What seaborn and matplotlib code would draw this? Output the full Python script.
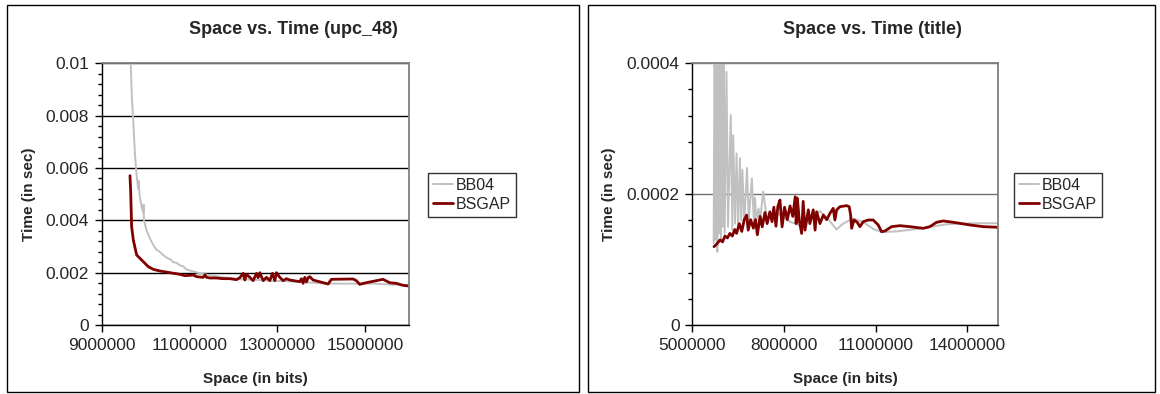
import numpy as np
import pandas as pd
import matplotlib
matplotlib.use("Agg")
import matplotlib.pyplot as plt
import seaborn as sns
from matplotlib.patches import Rectangle
from matplotlib.ticker import FixedLocator, MultipleLocator, FuncFormatter

# ---------------- data: left panel (upc_48) ----------------
upc_bb04_x = [9.650e6, 9.660e6, 9.690e6, 9.719e6, 9.758e6, 9.796e6, 9.833e6, 9.845e6, 9.860e6,
              9.910e6, 9.947e6, 9.955e6, 9.962e6, 10.024e6, 10.10e6, 10.174e6, 10.25e6, 10.32e6,
              10.40e6, 10.50e6, 10.56e6, 10.63e6, 10.70e6, 10.78e6, 10.86e6, 10.93e6, 11.08e6,
              11.24e6, 11.46e6, 11.77e6, 12.15e6, 12.53e6, 12.90e6, 13.28e6, 13.66e6, 14.04e6,
              14.42e6, 14.80e6, 15.18e6, 15.56e6, 16.0e6]
upc_bb04_y = [0.0106, 0.0100, 0.0086, 0.0078, 0.0065, 0.0057, 0.0052, 0.0055, 0.0050,
              0.0045, 0.0043, 0.0046, 0.0040, 0.0036, 0.0033, 0.00306, 0.00287, 0.00280,
              0.00267, 0.00255, 0.00251, 0.00240, 0.00238, 0.00228, 0.00224, 0.00212, 0.00205,
              0.00197, 0.00190, 0.00182, 0.00175, 0.00172, 0.00169, 0.00167, 0.00163, 0.00159,
              0.00158, 0.00158, 0.00158, 0.00155, 0.00152]

upc_bsgap_x = [9.644e6, 9.659e6, 9.682e6, 9.720e6, 9.796e6, 9.872e6, 9.947e6, 10.061e6, 10.175e6,
               10.327e6, 10.554e6, 10.782e6, 10.895e6, 11.009e6, 11.085e6, 11.161e6, 11.313e6,
               11.350e6, 11.388e6, 11.464e6, 11.616e6, 11.768e6, 11.919e6, 12.071e6, 12.147e6,
               12.223e6, 12.261e6, 12.298e6, 12.374e6, 12.450e6, 12.526e6, 12.564e6, 12.602e6,
               12.678e6, 12.754e6, 12.829e6, 12.890e6, 12.943e6, 12.981e6, 13.057e6, 13.133e6,
               13.209e6, 13.284e6, 13.512e6, 13.550e6, 13.588e6, 13.626e6, 13.664e6, 13.702e6,
               13.739e6, 13.815e6, 14.043e6, 14.157e6, 14.232e6, 14.725e6, 14.801e6, 14.877e6,
               15.029e6, 15.408e6, 15.560e6, 15.712e6, 15.863e6, 16.0e6]
upc_bsgap_y = [0.005706, 0.005159, 0.003757, 0.003248, 0.002675, 0.002547, 0.002420, 0.002229,
               0.002127, 0.002063, 0.002000, 0.001936, 0.001885, 0.001898, 0.001910, 0.001847,
               0.001821, 0.001910, 0.001821, 0.001796, 0.001796, 0.001770, 0.001770, 0.001732,
               0.001808, 0.001974, 0.001719, 0.001936, 0.001821, 0.001694, 0.001974, 0.001808,
               0.002000, 0.001694, 0.001821, 0.001694, 0.001974, 0.001694, 0.002000, 0.001821,
               0.001694, 0.001770, 0.001719, 0.001656, 0.001770, 0.001592, 0.001821, 0.001643,
               0.001808, 0.001847, 0.001719, 0.001617, 0.001566, 0.001745, 0.001758, 0.001694,
               0.001554, 0.001617, 0.001745, 0.001617, 0.001592, 0.001515, 0.001490]

# ---------------- data: right panel (title) ----------------
title_bb04_x = [5.70e6, 5.73e6, 5.76e6, 5.79e6, 5.82e6, 5.85e6, 5.88e6, 5.91e6, 5.94e6, 5.97e6,
                6.00e6, 6.03e6, 6.06e6, 6.12e6, 6.17e6, 6.26e6, 6.31e6, 6.34e6, 6.40e6, 6.45e6,
                6.50e6, 6.56e6, 6.60e6, 6.64e6, 6.70e6, 6.79e6, 6.85e6, 6.95e6, 7.02e6, 7.05e6,
                7.10e6, 7.17e6, 7.22e6, 7.32e6, 7.45e6, 7.65e6, 7.90e6, 8.20e6, 8.525e6, 8.85e6,
                9.18e6, 9.45e6, 9.72e6, 9.94e6, 10.27e6, 10.60e6, 10.92e6, 11.20e6, 11.69e6,
                12.56e6, 13.33e6, 14.09e6, 15.0e6]
title_bb04_y = [1.25e-4, 4.6e-4, 1.3e-4, 4.6e-4, 1.12e-4, 4.6e-4, 1.4e-4, 4.6e-4, 1.3e-4, 4.6e-4,
                1.5e-4, 4.5e-4, 1.4e-4, 3.87e-4, 1.5e-4, 3.21e-4, 1.45e-4, 2.9e-4, 1.55e-4, 2.62e-4,
                1.5e-4, 2.55e-4, 1.6e-4, 2.37e-4, 1.55e-4, 2.4e-4, 1.6e-4, 2.24e-4, 1.55e-4, 1.95e-4,
                1.6e-4, 1.78e-4, 1.6e-4, 2.04e-4, 1.60e-4, 1.72e-4, 1.68e-4, 1.58e-4, 1.52e-4, 1.65e-4,
                1.74e-4, 1.62e-4, 1.46e-4, 1.55e-4, 1.63e-4, 1.57e-4, 1.47e-4, 1.42e-4, 1.43e-4,
                1.48e-4, 1.54e-4, 1.555e-4, 1.555e-4]

title_bsgap_x = [5.71e6, 5.80e6, 5.91e6, 5.99e6, 6.07e6, 6.15e6, 6.23e6, 6.31e6, 6.39e6, 6.45e6,
                 6.54e6, 6.62e6, 6.70e6, 6.78e6, 6.83e6, 6.91e6, 7.00e6, 7.07e6, 7.13e6, 7.22e6,
                 7.29e6, 7.38e6, 7.45e6, 7.54e6, 7.61e6, 7.67e6, 7.74e6, 7.80e6, 7.87e6, 7.94e6,
                 8.02e6, 8.11e6, 8.20e6, 8.29e6, 8.37e6, 8.40e6, 8.44e6, 8.50e6, 8.58e6, 8.63e6,
                 8.69e6, 8.80e6, 8.85e6, 8.96e6, 9.02e6, 9.07e6, 9.18e6, 9.29e6, 9.40e6,
                 9.507e6, 9.615e6, 9.670e6, 9.726e6, 9.834e6, 10.053e6, 10.138e6, 10.184e6,
                 10.217e6, 10.292e6, 10.400e6, 10.488e6, 10.596e6, 10.760e6, 10.924e6, 11.087e6,
                 11.198e6, 11.307e6, 11.526e6, 11.797e6, 12.124e6, 12.560e6, 12.779e6, 12.998e6,
                 13.214e6, 13.542e6, 14.088e6, 14.524e6, 15.0e6]
title_bsgap_y = [1.197e-4, 1.238e-4, 1.30e-4, 1.27e-4, 1.36e-4, 1.33e-4, 1.40e-4, 1.36e-4, 1.46e-4,
                 1.40e-4, 1.55e-4, 1.43e-4, 1.61e-4, 1.68e-4, 1.45e-4, 1.61e-4, 1.48e-4, 1.61e-4,
                 1.38e-4, 1.66e-4, 1.50e-4, 1.72e-4, 1.55e-4, 1.73e-4, 1.58e-4, 1.80e-4, 1.51e-4,
                 1.81e-4, 1.91e-4, 1.50e-4, 1.80e-4, 1.61e-4, 1.82e-4, 1.66e-4, 1.96e-4, 1.55e-4,
                 1.94e-4, 1.61e-4, 1.40e-4, 1.89e-4, 1.45e-4, 1.76e-4, 1.55e-4, 1.76e-4, 1.45e-4,
                 1.73e-4, 1.55e-4, 1.68e-4, 1.61e-4,
                 1.707e-4, 1.784e-4, 1.605e-4, 1.758e-4, 1.808e-4, 1.824e-4, 1.808e-4, 1.681e-4,
                 1.478e-4, 1.605e-4, 1.570e-4, 1.503e-4, 1.579e-4, 1.605e-4, 1.605e-4, 1.529e-4,
                 1.426e-4, 1.437e-4, 1.503e-4, 1.518e-4, 1.503e-4, 1.478e-4, 1.503e-4, 1.570e-4,
                 1.590e-4, 1.570e-4, 1.529e-4, 1.503e-4, 1.494e-4]

series_names = ["BB04", "BSGAP"]
panel_titles = ["Space vs. Time (upc_48)", "Space vs. Time (title)"]
upc_xticks = [9000000, 11000000, 13000000, 15000000]
title_xticks = [5000000, 8000000, 11000000, 14000000]
x_label = "Space (in bits)"
y_label = "Time (in sec)"

# ---------------- styling ----------------
sns.set_style("white")
plt.rcParams["font.family"] = ["Liberation Sans", "DejaVu Sans"]

W, H = 1160, 394
fig = plt.figure(figsize=(W / 100, H / 100), dpi=100)

def fx(px):
    return px / W

def fy(py):
    return 1 - py / H

GRAY = "#C0C0C0"
RED = "#800000"

panels = [
    dict(box=(7, 5, 579, 392), ax=(101.7, 63.3, 409, 325),
         bb=(upc_bb04_x, upc_bb04_y), bs=(upc_bsgap_x, upc_bsgap_y),
         xlim=(9e6, 16e6), xticks=upc_xticks, ylim=(0, 0.01), ymaj=0.002, ymin=0.0004,
         title=panel_titles[0], title_x=293, ylab_x=29, leg=(428, 173), grid="#000000"),
    dict(box=(588, 5, 1155, 392), ax=(692.3, 63.3, 997.7, 325),
         bb=(title_bb04_x, title_bb04_y), bs=(title_bsgap_x, title_bsgap_y),
         xlim=(5e6, 15e6), xticks=title_xticks, ylim=(0, 0.0004), ymaj=0.0002, ymin=0.00004,
         title=panel_titles[1], title_x=872, ylab_x=609, leg=(1014, 173), grid="#707070"),
]

for p in panels:
    x0, y0, x1, y1 = p["box"]
    fig.add_artist(Rectangle((fx(x0), fy(y1)), fx(x1 - x0), (y1 - y0) / H,
                             transform=fig.transFigure, fill=False,
                             edgecolor="black", linewidth=1.0))
    a0, b0, a1, b1 = p["ax"]
    ax = fig.add_axes([fx(a0), fy(b1), fx(a1 - a0), (b1 - b0) / H])

    df_bb = pd.DataFrame({"x": p["bb"][0], "y": p["bb"][1]})
    df_bs = pd.DataFrame({"x": p["bs"][0], "y": p["bs"][1]})
    sns.lineplot(data=df_bb, x="x", y="y", ax=ax, color=GRAY, linewidth=1.4,
                 sort=False, estimator=None, label=series_names[0])
    sns.lineplot(data=df_bs, x="x", y="y", ax=ax, color=RED, linewidth=2.0,
                 sort=False, estimator=None, label=series_names[1])

    ax.set_xlim(*p["xlim"])
    ax.set_ylim(*p["ylim"])
    ax.xaxis.set_major_locator(FixedLocator(p["xticks"]))
    ax.yaxis.set_major_locator(MultipleLocator(p["ymaj"]))
    ax.yaxis.set_minor_locator(MultipleLocator(p["ymin"]))
    ax.xaxis.set_major_formatter(FuncFormatter(lambda v, pos: "%d" % round(v)))
    ax.yaxis.set_major_formatter(FuncFormatter(lambda v, pos: "0" if abs(v) < 1e-12 else "%g" % v))

    ax.yaxis.grid(True, which="major", color=p["grid"], linewidth=1.0)
    ax.xaxis.grid(False)
    ax.set_axisbelow(True)
    ax.tick_params(axis="both", which="major", direction="out", length=5, width=1,
                   color="black", labelsize=12.5, pad=4)
    ax.tick_params(axis="y", which="minor", direction="out", length=3, width=1, color="black", left=True)
    ax.tick_params(axis="x", which="minor", bottom=False)
    ax.tick_params(left=True, bottom=True)
    for s in ["left", "bottom"]:
        ax.spines[s].set_color("black")
        ax.spines[s].set_linewidth(1.0)
    for s in ["top", "right"]:
        ax.spines[s].set_color("#808080")
        ax.spines[s].set_linewidth(1.3)

    ax.set_xlabel("")
    ax.set_ylabel("")
    fig.text(fx(p["title_x"]), fy(29), p["title"], ha="center", va="center",
             fontsize=13, fontweight="bold")
    fig.text(fx((a0 + a1) / 2), fy(379), x_label, ha="center", va="center",
             fontsize=11, fontweight="bold")
    fig.text(fx(p["ylab_x"]), fy((b0 + b1) / 2), y_label, ha="center", va="center",
             rotation=90, fontsize=11, fontweight="bold")

    handles, labels = ax.get_legend_handles_labels()
    leg = ax.legend(handles, labels, loc="upper left",
                    bbox_to_anchor=(fx(p["leg"][0]), fy(p["leg"][1])),
                    bbox_transform=fig.transFigure, borderaxespad=0,
                    frameon=True, fancybox=False, fontsize=11.5,
                    handlelength=1.25, handletextpad=0.2, borderpad=0.3,
                    labelspacing=0.25)
    leg.get_frame().set_edgecolor("black")
    leg.get_frame().set_linewidth(1.0)

fig.savefig("out.png", dpi=100)
